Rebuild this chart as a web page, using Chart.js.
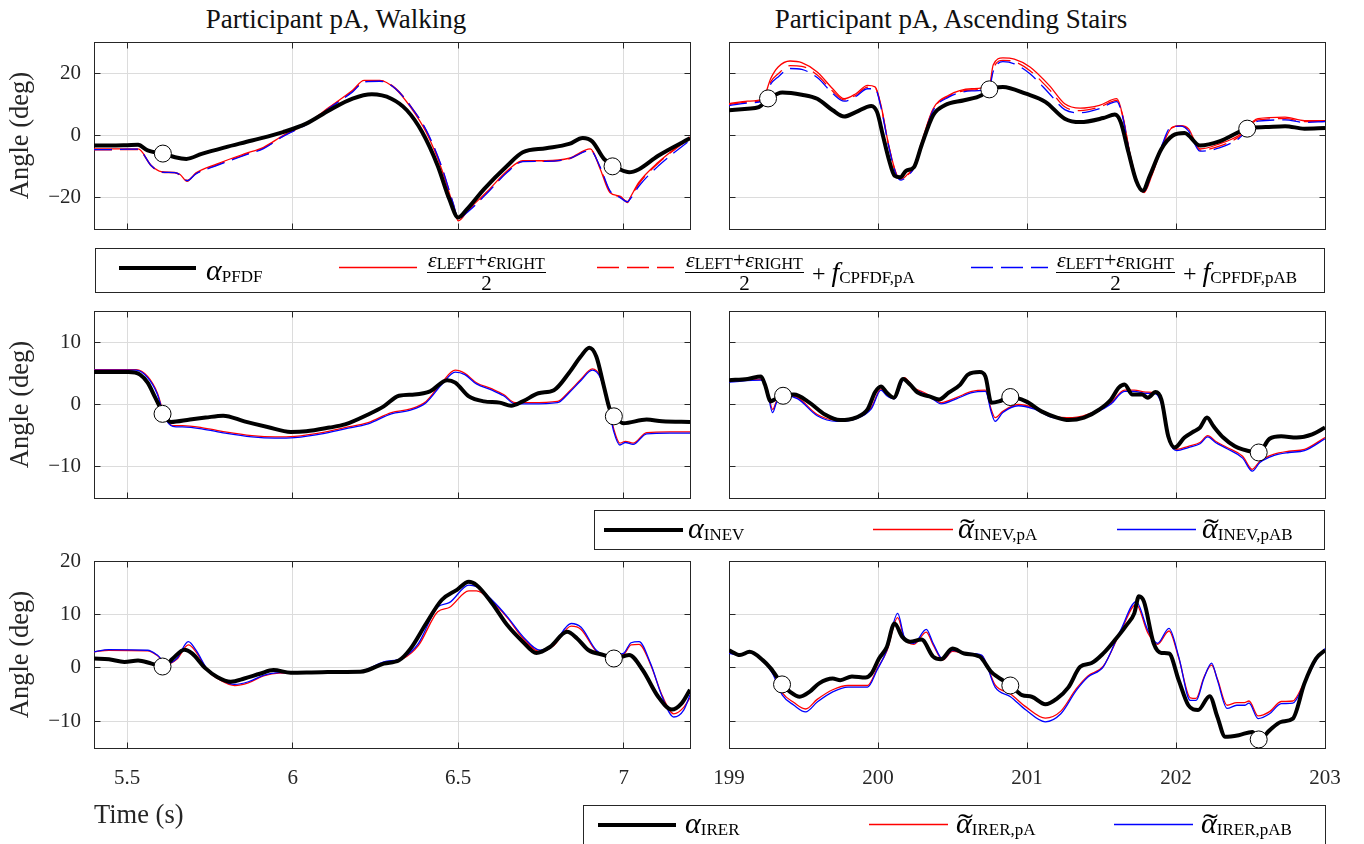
<!DOCTYPE html>
<html><head><meta charset="utf-8">
<script src="https://cdn.jsdelivr.net/npm/chart.js@4.4.1/dist/chart.umd.min.js"></script>
<style>
html,body{margin:0;padding:0;background:#fff;}
#page{position:relative;width:1364px;height:844px;overflow:hidden;font-family:'Liberation Serif','Times New Roman',serif;}
canvas{position:absolute;}
.ttl{position:absolute;top:4px;transform:translateX(-50%);font-size:27px;line-height:30px;color:#111;white-space:nowrap;}
.lg{position:absolute;border:1px solid #262626;background:#fff;box-sizing:border-box;}
#sw{position:absolute;left:0;top:0;pointer-events:none;}
.t{position:absolute;white-space:nowrap;line-height:1;color:#000;}
.t i{font-style:italic;}
.sb{font-size:17px;position:relative;top:2px;font-style:normal;}
.at{position:relative;display:inline-block;font-style:italic;}
.tl{position:absolute;left:2px;top:1px;font-style:normal;transform:scaleX(1.5);transform-origin:left;}
.row{display:flex;align-items:center;}
.fr{display:flex;flex-direction:column;}
.num{font-size:22px;line-height:21px;padding:0 1px;}
.s2{font-size:16px;position:relative;top:2px;}
.pl{font-size:22px;}
.den{border-top:1.3px solid #000;font-size:21px;line-height:21px;text-align:center;}
.tail{font-size:28px;margin-left:8px;}
.pl2{font-size:24px;margin-right:6px;}
</style></head><body><div id="page">
<div class="ttl" style="left:336px">Participant pA, Walking</div>
<div class="ttl" style="left:951px">Participant pA, Ascending Stairs</div>

<canvas id="cTL" width="702" height="211" style="left:0;top:30px;width:702px;height:211px"></canvas>
<canvas id="cTR" width="644" height="211" style="left:705px;top:30px;width:644px;height:211px"></canvas>
<canvas id="cML" width="702" height="211" style="left:0;top:299px;width:702px;height:211px"></canvas>
<canvas id="cMR" width="644" height="211" style="left:705px;top:299px;width:644px;height:211px"></canvas>
<canvas id="cBL" width="702" height="283" style="left:0;top:549px;width:702px;height:283px"></canvas>
<canvas id="cBR" width="644" height="256" style="left:705px;top:549px;width:644px;height:256px"></canvas>

<div class="lg" style="left:95px;top:248px;width:1230px;height:45px"></div>
<div class="lg" style="left:594px;top:510px;width:731px;height:40px"></div>
<div class="lg" style="left:583px;top:805px;width:743px;height:45px"></div>

<svg id="sw" width="1364" height="844" viewBox="0 0 1364 844">
  <!-- legend 1 -->
  <line x1="119" y1="268" x2="196" y2="268" stroke="#000" stroke-width="4"/>
  <line x1="339" y1="267.5" x2="417" y2="267.5" stroke="#f00" stroke-width="1.3"/>
  <line x1="597" y1="267.5" x2="674" y2="267.5" stroke="#f00" stroke-width="1.3" stroke-dasharray="22 8"/>
  <line x1="971" y1="267.5" x2="1048" y2="267.5" stroke="#00f" stroke-width="1.3" stroke-dasharray="22 8"/>
  <!-- legend 2 -->
  <line x1="604" y1="530" x2="683" y2="530" stroke="#000" stroke-width="4"/>
  <line x1="873" y1="529.5" x2="953" y2="529.5" stroke="#f00" stroke-width="1.3"/>
  <line x1="1117" y1="529.5" x2="1196" y2="529.5" stroke="#00f" stroke-width="1.3"/>
  <!-- legend 3 -->
  <line x1="598" y1="825" x2="676" y2="825" stroke="#000" stroke-width="4"/>
  <line x1="869" y1="824.5" x2="948" y2="824.5" stroke="#f00" stroke-width="1.3"/>
  <line x1="1114" y1="824.5" x2="1193" y2="824.5" stroke="#00f" stroke-width="1.3"/>
</svg>

<!-- legend 1 texts -->
<div class="t" style="left:206px;top:255px;font-size:30px"><i>α</i><span class="sb">PFDF</span></div>
<div class="t row" style="left:427px;top:249px"><div class="fr"><div class="num"><i>ε</i><span class="s2">LEFT</span><span class="pl">+</span><i>ε</i><span class="s2">RIGHT</span></div><div class="den">2</div></div></div>
<div class="t row" style="left:685px;top:249px"><div class="fr"><div class="num"><i>ε</i><span class="s2">LEFT</span><span class="pl">+</span><i>ε</i><span class="s2">RIGHT</span></div><div class="den">2</div></div><div class="tail"><span class="pl2">+</span><i>f</i><span class="sb">CPFDF,pA</span></div></div>
<div class="t row" style="left:1056px;top:249px"><div class="fr"><div class="num"><i>ε</i><span class="s2">LEFT</span><span class="pl">+</span><i>ε</i><span class="s2">RIGHT</span></div><div class="den">2</div></div><div class="tail"><span class="pl2">+</span><i>f</i><span class="sb">CPFDF,pAB</span></div></div>

<!-- legend 2 texts -->
<div class="t" style="left:688px;top:513px;font-size:30px"><i>α</i><span class="sb">INEV</span></div>
<div class="t" style="left:958px;top:513px;font-size:30px"><span class="at">α<span class="tl">˜</span></span><span class="sb">INEV,pA</span></div>
<div class="t" style="left:1202px;top:513px;font-size:30px"><span class="at">α<span class="tl">˜</span></span><span class="sb">INEV,pAB</span></div>

<!-- legend 3 texts -->
<div class="t" style="left:685px;top:808px;font-size:30px"><i>α</i><span class="sb">IRER</span></div>
<div class="t" style="left:956px;top:808px;font-size:30px"><span class="at">α<span class="tl">˜</span></span><span class="sb">IRER,pA</span></div>
<div class="t" style="left:1201px;top:808px;font-size:30px"><span class="at">α<span class="tl">˜</span></span><span class="sb">IRER,pAB</span></div>
</div>
<script>
// ---------- tick labels / axis ranges ----------
const X_TICKS_WALK = [5.5, 6, 6.5, 7];
const X_TICKS_STAIRS = [199, 200, 201, 202, 203];
const Y_TICKS_TOP = [-20, 0, 20];
const Y_TICKS_MID = [-10, 0, 10];
const Y_TICKS_BOT = [-10, 0, 10, 20];

// ---------- Top-left: PFDF, walking ----------
const TL_BLACK_X = [5.40,5.45,5.50,5.533,5.562,5.611,5.645,5.679,5.725,5.796,5.877,5.971,6.041,6.111,6.181,6.239,6.298,6.345,6.391,6.438,6.473,6.500,6.526,6.578,6.648,6.695,6.765,6.835,6.876,6.905,6.940,6.972,7.016,7.046,7.104,7.200];
const TL_BLACK_Y = [-3.2,-3.2,-3.1,-3.0,-4.8,-5.9,-7.0,-7.5,-5.9,-3.8,-1.6,1.1,3.8,8.1,11.8,13.2,11.8,8.1,1.1,-9.7,-20.4,-26.3,-23.7,-17.2,-9.7,-5.4,-4.1,-2.7,-0.8,-1.9,-7.5,-10.0,-11.8,-10.8,-6.5,-0.9];
const TL_COLOR_X = [5.40,5.45,5.50,5.533,5.574,5.603,5.644,5.660,5.681,5.708,5.772,5.854,5.912,5.971,6.041,6.111,6.181,6.216,6.263,6.310,6.356,6.403,6.450,6.485,6.500,6.532,6.590,6.648,6.695,6.765,6.835,6.899,6.929,6.958,6.990,7.011,7.022,7.046,7.104,7.200];
const TL_RED_Y = [-4.3,-4.3,-4.3,-4.3,-9.7,-11.6,-11.8,-12.5,-14.7,-12.0,-9.1,-5.9,-3.8,0.0,3.8,9.1,14.5,17.7,17.7,15.0,9.1,1.1,-10.8,-22.6,-27.4,-23.7,-17.7,-11.3,-8.1,-8.1,-7.3,-4.3,-10.8,-18.3,-19.5,-21.5,-19.4,-15.0,-8.6,-0.5];
const TL_REDDASH_Y = [-4.6,-4.6,-4.5,-4.5,-9.9,-11.8,-12.0,-12.7,-14.4,-12.2,-9.4,-6.2,-4.0,-0.2,3.6,8.9,14.2,17.4,17.6,15.2,9.5,1.6,-10.2,-22.0,-26.8,-24.0,-18.0,-11.6,-8.3,-8.3,-7.5,-4.6,-10.4,-17.9,-19.8,-21.2,-19.6,-15.4,-8.9,-0.8];
const TL_BLUEDASH_Y = [-4.5,-4.5,-4.4,-4.4,-9.8,-11.7,-11.9,-12.6,-14.5,-12.3,-9.6,-6.4,-4.2,-0.3,3.5,8.8,14.0,17.2,17.4,15.1,9.4,1.8,-10.0,-21.8,-26.6,-24.2,-18.2,-11.8,-8.4,-8.3,-7.4,-4.8,-10.2,-17.7,-20.0,-21.3,-20.0,-16.2,-9.8,-1.5];
const TL_EVENT_X = [5.608, 6.966];
const TL_EVENT_Y = [-5.8, -9.9];

// ---------- Top-right: PFDF, stairs ----------
const TR_BLACK_X = [199.00,199.125,199.20,199.267,199.358,199.488,199.592,199.696,199.773,199.851,199.955,199.994,200.033,200.072,200.111,200.150,200.189,200.241,200.292,200.370,200.448,200.578,200.695,200.750,200.838,200.993,201.123,201.253,201.357,201.512,201.590,201.629,201.681,201.733,201.777,201.824,201.902,201.979,202.057,202.161,202.291,202.421,202.493,202.602,202.732,202.862,203.00];
const TR_BLACK_Y = [8.1,8.6,9.1,11.8,13.8,13.1,11.8,8.1,6.1,7.5,9.5,7.5,0.0,-7.5,-12.9,-13.4,-11.3,-10.2,-3.2,6.5,9.7,11.3,12.9,15.0,15.6,13.4,10.8,5.4,4.3,5.6,6.7,4.3,-5.4,-14.5,-17.7,-12.9,-4.3,0.0,0.8,-3.2,-1.9,1.1,2.4,2.7,3.0,2.2,2.4];
const TR_COLOR_X = [199.00,199.125,199.228,199.280,199.330,199.410,199.488,199.592,199.696,199.773,199.851,199.930,199.980,200.020,200.072,200.124,200.155,200.200,200.241,200.292,200.370,200.474,200.630,200.747,200.773,200.838,200.915,201.020,201.149,201.253,201.357,201.486,201.603,201.642,201.694,201.746,201.785,201.837,201.902,201.966,202.031,202.083,202.161,202.291,202.421,202.550,202.732,202.862,203.00];
const TR_RED_Y = [10.2,11.0,11.8,18.3,22.0,23.9,23.4,20.4,15.0,11.8,13.4,16.1,15.6,9.7,-3.2,-12.4,-14.0,-12.4,-10.2,-2.2,8.6,12.9,15.0,15.9,22.6,24.9,24.5,22.0,16.1,10.2,8.8,9.7,11.8,6.5,-6.5,-15.6,-18.3,-12.9,-4.3,2.2,3.2,2.2,-4.3,-2.7,0.0,5.4,5.9,4.8,4.8];
const TR_REDDASH_Y = [9.9,10.7,11.5,17.2,19.8,22.4,22.2,19.4,14.2,11.4,12.9,15.5,15.3,9.3,-3.3,-12.6,-14.1,-12.6,-10.4,-2.5,8.3,12.6,14.6,15.6,21.3,24.1,23.7,20.8,14.8,9.2,8.0,9.1,11.3,6.2,-6.8,-15.8,-18.1,-12.4,-3.9,2.4,3.1,1.8,-4.7,-3.4,-0.5,5.0,5.4,4.5,4.6];
const TR_BLUEDASH_Y = [9.6,10.4,11.2,16.5,18.8,21.5,21.2,18.6,13.5,11.0,12.5,15.0,15.0,9.0,-3.5,-12.8,-14.3,-12.8,-10.5,-2.8,8.0,12.3,14.3,15.3,20.5,23.7,23.0,19.8,13.5,8.3,7.3,8.6,10.9,6.0,-7.0,-16.0,-18.0,-12.0,-3.5,2.7,3.0,1.5,-5.0,-4.0,-1.0,4.6,5.0,4.2,4.5];
const TR_EVENT_X = [199.262, 200.747, 202.478];
const TR_EVENT_Y = [11.9, 14.8, 2.2];

// ---------- Middle-left: INEV, walking ----------
const ML_BLACK_X = [5.40,5.504,5.539,5.562,5.585,5.611,5.632,5.690,5.737,5.790,5.854,5.924,5.994,6.041,6.111,6.158,6.228,6.275,6.321,6.368,6.415,6.467,6.491,6.532,6.578,6.625,6.660,6.695,6.742,6.789,6.835,6.870,6.896,6.917,6.940,6.958,6.972,6.999,7.069,7.116,7.200];
const ML_BLACK_Y = [5.2,5.2,4.8,3.5,1.1,-1.6,-2.8,-2.4,-2.1,-1.8,-2.7,-3.6,-4.4,-4.3,-3.7,-3.2,-1.6,-0.3,1.4,1.6,2.1,3.9,3.5,1.3,0.5,0.3,-0.2,0.5,1.8,2.3,5.1,7.7,9.1,7.7,2.9,-0.8,-1.9,-3.0,-2.4,-2.7,-2.8];
const ML_COLOR_X = [5.40,5.527,5.562,5.591,5.614,5.638,5.667,5.725,5.796,5.877,5.947,6.006,6.088,6.158,6.228,6.298,6.356,6.403,6.450,6.491,6.520,6.555,6.602,6.637,6.672,6.718,6.800,6.835,6.870,6.905,6.929,6.952,6.970,6.988,7.005,7.028,7.069,7.139,7.200];
const ML_RED_Y = [5.6,5.6,4.5,1.9,-1.9,-3.4,-3.4,-3.7,-4.4,-5.0,-5.2,-5.1,-4.5,-3.7,-2.9,-1.3,-0.7,0.5,3.5,5.5,5.0,3.5,2.5,1.6,0.3,0.3,0.5,2.1,4.0,5.7,4.5,0.3,-4.0,-6.2,-5.9,-6.2,-4.5,-4.4,-4.4];
const ML_BLUE_Y = [5.5,5.5,4.3,1.7,-2.1,-3.5,-3.6,-3.9,-4.6,-5.2,-5.4,-5.3,-4.7,-3.9,-3.1,-1.5,-0.9,0.3,3.2,5.2,4.8,3.3,2.3,1.4,0.1,0.1,0.3,1.9,3.8,5.5,4.3,0.1,-4.4,-6.5,-6.1,-6.4,-4.7,-4.6,-4.6];
const ML_EVENT_X = [5.607, 6.970];
const ML_EVENT_Y = [-1.5, -1.9];

// ---------- Middle-right: INEV, stairs ----------
const MR_BLACK_X = [199.00,199.125,199.215,199.241,199.280,199.306,199.363,199.436,199.540,199.644,199.747,199.851,199.930,199.981,200.020,200.059,200.106,200.168,200.215,200.267,200.345,200.410,200.474,200.552,200.604,200.682,200.721,200.760,200.812,200.889,200.993,201.097,201.201,201.279,201.383,201.486,201.564,201.616,201.655,201.707,201.772,201.811,201.863,201.902,201.948,201.992,202.057,202.122,202.161,202.208,202.252,202.317,202.395,202.447,202.555,202.628,202.706,202.810,202.914,203.00];
const MR_BLACK_Y = [3.9,4.1,4.5,3.2,0.5,0.8,1.4,1.6,0.3,-1.6,-2.5,-2.1,-0.8,2.0,2.9,1.9,1.1,4.1,3.2,1.9,1.3,0.8,1.9,3.2,4.8,5.2,4.5,0.3,0.5,1.2,0.5,-1.1,-2.1,-2.5,-2.1,-0.8,0.8,2.7,3.2,1.6,1.6,1.1,2.0,0.8,-5.1,-6.9,-5.3,-4.3,-3.7,-2.1,-3.5,-5.3,-6.7,-7.2,-7.7,-5.5,-5.1,-5.3,-4.8,-3.7];
const MR_COLOR_X = [199.00,199.215,199.254,199.293,199.319,199.384,199.462,199.592,199.722,199.851,199.955,200.020,200.059,200.111,200.176,200.241,200.319,200.384,200.423,200.526,200.630,200.721,200.760,200.786,200.838,200.942,201.045,201.175,201.305,201.460,201.564,201.655,201.720,201.798,201.863,201.902,201.953,202.005,202.083,202.161,202.213,202.265,202.343,202.447,202.512,202.563,202.654,202.758,202.862,203.00];
const MR_RED_Y = [3.7,4.0,2.7,-0.8,0.5,1.6,1.1,-1.6,-2.5,-2.1,-0.5,2.5,1.6,1.1,4.3,2.7,1.8,0.8,0.3,1.1,2.1,2.3,-0.8,-2.1,-1.1,0.0,-0.5,-1.9,-2.1,-1.1,0.3,2.3,2.3,2.0,1.9,0.3,-5.6,-7.2,-6.7,-6.1,-5.0,-5.9,-6.9,-8.3,-10.4,-9.1,-8.0,-7.5,-7.2,-5.3];
const MR_BLUE_Y = [3.6,3.9,2.5,-1.3,0.3,1.4,0.9,-1.8,-2.7,-2.3,-0.7,2.3,1.4,0.9,4.1,2.5,1.6,0.6,0.1,0.9,1.9,2.1,-1.2,-2.7,-1.3,-0.2,-0.7,-2.1,-2.3,-1.3,0.1,2.1,2.1,1.8,1.7,0.1,-5.8,-7.4,-6.9,-6.3,-5.2,-6.1,-7.1,-8.6,-10.7,-9.3,-8.2,-7.7,-7.4,-5.5];
const MR_EVENT_X = [199.363, 200.888, 202.555];
const MR_EVENT_Y = [1.4, 1.2, -7.7];

// ---------- Bottom-left: IRER, walking ----------
const BL_BLACK_X = [5.40,5.445,5.492,5.533,5.574,5.611,5.638,5.673,5.696,5.737,5.772,5.813,5.854,5.901,5.942,5.994,6.088,6.204,6.228,6.275,6.321,6.356,6.403,6.450,6.496,6.532,6.555,6.602,6.648,6.695,6.736,6.777,6.829,6.859,6.894,6.940,6.972,7.016,7.057,7.104,7.145,7.174,7.200];
const BL_BLACK_Y = [1.75,1.6,1.1,1.4,0.8,0.3,1.75,3.4,2.7,-0.1,-1.7,-2.6,-2.0,-1.1,-0.4,-0.9,-0.8,-0.75,-0.4,0.8,1.4,3.6,8.3,12.7,14.6,16.1,15.5,12.1,8.0,4.9,2.8,3.9,6.75,5.5,3.3,2.4,1.75,2.4,-0.4,-5.4,-7.8,-6.7,-4.1];
const BL_COLOR_X = [5.40,5.445,5.562,5.591,5.620,5.650,5.685,5.708,5.743,5.784,5.825,5.866,5.912,5.959,6.088,6.204,6.275,6.333,6.380,6.438,6.473,6.532,6.555,6.602,6.648,6.695,6.748,6.789,6.841,6.871,6.917,6.952,6.999,7.022,7.046,7.081,7.116,7.151,7.181,7.200];
const BL_RED_Y = [3.0,3.3,3.2,2.3,0.7,1.6,4.3,3.0,-0.5,-2.4,-3.3,-2.8,-1.5,-1.0,-1.0,-0.7,0.9,1.7,4.2,10.5,11.3,14.4,14.4,12.4,9.4,5.6,3.0,4.2,7.8,7.2,3.1,2.2,2.5,4.3,4.4,0.6,-5.2,-8.6,-7.4,-5.6];
const BL_BLUE_Y = [3.0,3.4,3.3,2.4,0.8,1.75,4.9,3.3,-0.3,-2.2,-3.1,-2.6,-1.4,-0.9,-0.9,-0.6,1.1,1.9,4.6,11.4,12.2,15.5,15.2,12.7,9.6,5.9,3.3,4.6,8.3,7.6,3.3,2.4,2.7,4.7,4.9,0.8,-5.4,-9.2,-7.9,-5.1];
const BL_EVENT_X = [5.607, 6.970];
const BL_EVENT_Y = [0.25, 1.75];

// ---------- Bottom-right: IRER, stairs ----------
const BR_BLACK_X = [199.00,199.073,199.138,199.228,199.280,199.358,199.410,199.475,199.540,199.605,199.696,199.747,199.825,199.916,199.955,200.007,200.059,200.111,200.163,200.215,200.292,200.370,200.422,200.500,200.578,200.682,200.760,200.889,200.967,201.032,201.123,201.201,201.279,201.357,201.434,201.512,201.590,201.668,201.720,201.751,201.785,201.850,201.902,201.953,202.018,202.083,202.148,202.226,202.278,202.330,202.421,202.512,202.563,202.628,202.706,202.784,202.862,202.940,203.00];
const BR_BLACK_Y = [3.3,2.4,3.0,1.4,-0.1,-3.1,-4.5,-5.4,-4.5,-2.9,-2.0,-2.3,-1.6,-1.8,-1.1,1.75,3.9,8.3,5.8,4.9,5.3,2.1,1.6,3.6,2.7,2.1,-0.75,-3.25,-5.1,-5.4,-6.8,-5.75,-3.6,0.2,0.9,2.7,5.2,8.0,10.2,13.4,12.4,4.6,2.8,2.7,-2.3,-7.0,-7.9,-5.3,-9.2,-12.9,-12.6,-12.0,-13.4,-11.7,-10.1,-9.5,-2.9,1.75,3.3];
const BR_COLOR_X = [199.00,199.073,199.138,199.228,199.293,199.358,199.436,199.514,199.592,199.696,199.799,199.930,199.994,200.059,200.132,200.176,200.241,200.324,200.370,200.436,200.500,200.604,200.695,200.786,200.889,200.993,201.123,201.227,201.331,201.409,201.512,201.629,201.733,201.810,201.876,201.953,202.018,202.096,202.135,202.187,202.239,202.278,202.343,202.408,202.460,202.490,202.551,202.628,202.706,202.784,202.862,202.940,203.00];
const BR_RED_Y = [2.9,2.5,3.0,1.5,-0.9,-4.7,-6.5,-7.7,-5.9,-4.1,-3.3,-3.3,-0.2,3.1,9.4,5.6,4.4,6.7,4.3,1.5,3.1,2.6,2.3,-3.2,-4.9,-7.3,-9.4,-8.1,-3.9,-1.5,0.3,6.8,11.9,6.6,4.4,6.9,1.9,-5.6,-5.7,-1.8,0.5,-2.1,-7.0,-6.5,-6.5,-6.2,-9.0,-8.2,-6.3,-6.2,-2.6,1.5,3.5];
const BR_BLUE_Y = [2.7,2.4,2.9,1.4,-1.1,-5.1,-7.0,-8.25,-6.4,-4.5,-3.6,-3.6,-0.4,3.3,10.2,5.8,4.6,7.2,4.6,1.6,3.3,2.7,2.4,-3.6,-5.4,-7.9,-10.1,-8.6,-4.2,-1.7,0.2,7.1,12.4,7.1,4.6,7.4,2.1,-6.1,-6.1,-2.0,0.9,-2.3,-7.6,-7.0,-7.0,-6.6,-9.5,-8.6,-6.7,-6.6,-2.9,1.4,3.6];
const BR_EVENT_X = [199.356, 200.888, 202.555];
const BR_EVENT_Y = [-3.1, -3.3, -13.4];

// ---------- helpers ----------
const FONT = "'Liberation Serif', 'Times New Roman', serif";
const AXC = '#262626';
const pts = (xs, ys) => xs.map((x, i) => ({x: x, y: ys[i]}));
const fmt = v => String(v).replace('-', '\u2212');
const alignPx = p => Math.round(p - 0.5) + 0.5;

const boxPlugin = {
  id: 'matlabBox',
  beforeDatasetsDraw(chart) {
    const {ctx, chartArea: a, scales: {x, y}} = chart;
    ctx.save();
    ctx.strokeStyle = AXC; ctx.lineWidth = 1;
    const L = alignPx(a.left), R = alignPx(a.right), T = alignPx(a.top), B = alignPx(a.bottom);
    ctx.strokeRect(L, T, R - L, B - T);
    ctx.beginPath();
    x.ticks.forEach(t => { const p = alignPx(x.getPixelForValue(t.value)); ctx.moveTo(p, T); ctx.lineTo(p, T + 6); ctx.moveTo(p, B); ctx.lineTo(p, B - 6); });
    y.ticks.forEach(t => { const p = alignPx(y.getPixelForValue(t.value)); ctx.moveTo(L, p); ctx.lineTo(L + 6, p); ctx.moveTo(R, p); ctx.lineTo(R - 6, p); });
    ctx.stroke();
    ctx.restore();
  }
};

function panel(id, o) {
  const datasets = [
    {data: pts(o.ex, o.ey), showLine: false, pointRadius: 8.5, pointBackgroundColor: '#fff', pointBorderColor: '#000', pointBorderWidth: 1, clip: false, order: 0},
    {data: pts(o.bx, o.by), borderColor: '#000', borderWidth: 4, order: 1}
  ];
  o.series.forEach((s, i) => datasets.push({data: pts(o.cx, s.y), borderColor: s.c, borderWidth: 1.3, borderDash: s.dash || [], order: 2 + i}));
  new Chart(document.getElementById(id), {
    type: 'line',
    data: {datasets},
    options: {
      responsive: false, animation: false, events: [],
      elements: {point: {radius: 0}, line: {cubicInterpolationMode: 'monotone', borderJoinStyle: 'round'}},
      layout: {padding: {left: o.left ? 0 : 24, right: o.left ? 12 : 24, top: 12, bottom: o.bottom ? 0 : 12}},
      plugins: {legend: {display: false}, tooltip: {enabled: false}},
      scales: {
        x: {
          type: 'linear', min: o.xmin, max: o.xmax,
          afterBuildTicks: s => { s.ticks = o.xt.map(v => ({value: v})); },
          afterFit: s => { s.height = o.bottom ? (o.left ? 84 : 57) : 0; s.paddingLeft = 0; s.paddingRight = 0; },
          grid: {color: '#dcdcdc', drawTicks: false, lineWidth: 1},
          border: {display: false},
          ticks: {display: !!o.bottom, padding: 18, autoSkip: false, maxRotation: 0, color: AXC, font: {family: FONT, size: 21}, callback: v => fmt(v)},
          title: {display: !!(o.bottom && o.left), text: 'Time (s)', align: 'start', color: AXC, font: {family: FONT, size: 26.5}, padding: {top: 0, bottom: 0}}
        },
        y: {
          type: 'linear', min: o.ymin, max: o.ymax,
          afterBuildTicks: s => { s.ticks = o.yt.map(v => ({value: v})); },
          afterFit: s => { s.width = o.left ? 94 : 0; s.paddingTop = 0; s.paddingBottom = 0; },
          grid: {color: '#dcdcdc', drawTicks: false, lineWidth: 1},
          border: {display: false},
          ticks: {display: !!o.left, padding: 13, color: AXC, font: {family: FONT, size: 21}, callback: v => fmt(v)},
          title: {display: !!o.left, text: 'Angle (deg)', color: AXC, font: {family: FONT, size: 26.5}, padding: {top: 5, bottom: 0}}
        }
      }
    },
    plugins: [boxPlugin]
  });
}

const RED = '#ff0000', BLUE = '#0000ff', DASH = [18, 8];

panel('cTL', {left: true, xmin: 5.4, xmax: 7.2, xt: X_TICKS_WALK, ymin: -30, ymax: 30, yt: Y_TICKS_TOP,
  bx: TL_BLACK_X, by: TL_BLACK_Y, cx: TL_COLOR_X, ex: TL_EVENT_X, ey: TL_EVENT_Y,
  series: [{y: TL_BLUEDASH_Y, c: BLUE, dash: DASH}, {y: TL_REDDASH_Y, c: RED, dash: DASH}, {y: TL_RED_Y, c: RED}]});
panel('cTR', {left: false, xmin: 199, xmax: 203, xt: X_TICKS_STAIRS, ymin: -30, ymax: 30, yt: Y_TICKS_TOP,
  bx: TR_BLACK_X, by: TR_BLACK_Y, cx: TR_COLOR_X, ex: TR_EVENT_X, ey: TR_EVENT_Y,
  series: [{y: TR_BLUEDASH_Y, c: BLUE, dash: DASH}, {y: TR_REDDASH_Y, c: RED, dash: DASH}, {y: TR_RED_Y, c: RED}]});
panel('cML', {left: true, xmin: 5.4, xmax: 7.2, xt: X_TICKS_WALK, ymin: -15, ymax: 15, yt: Y_TICKS_MID,
  bx: ML_BLACK_X, by: ML_BLACK_Y, cx: ML_COLOR_X, ex: ML_EVENT_X, ey: ML_EVENT_Y,
  series: [{y: ML_BLUE_Y, c: BLUE}, {y: ML_RED_Y, c: RED}]});
panel('cMR', {left: false, xmin: 199, xmax: 203, xt: X_TICKS_STAIRS, ymin: -15, ymax: 15, yt: Y_TICKS_MID,
  bx: MR_BLACK_X, by: MR_BLACK_Y, cx: MR_COLOR_X, ex: MR_EVENT_X, ey: MR_EVENT_Y,
  series: [{y: MR_BLUE_Y, c: BLUE}, {y: MR_RED_Y, c: RED}]});
panel('cBL', {left: true, bottom: true, xmin: 5.4, xmax: 7.2, xt: X_TICKS_WALK, ymin: -15, ymax: 20, yt: Y_TICKS_BOT,
  bx: BL_BLACK_X, by: BL_BLACK_Y, cx: BL_COLOR_X, ex: BL_EVENT_X, ey: BL_EVENT_Y,
  series: [{y: BL_BLUE_Y, c: BLUE}, {y: BL_RED_Y, c: RED}]});
panel('cBR', {left: false, bottom: true, xmin: 199, xmax: 203, xt: X_TICKS_STAIRS, ymin: -15, ymax: 20, yt: Y_TICKS_BOT,
  bx: BR_BLACK_X, by: BR_BLACK_Y, cx: BR_COLOR_X, ex: BR_EVENT_X, ey: BR_EVENT_Y,
  series: [{y: BR_BLUE_Y, c: BLUE}, {y: BR_RED_Y, c: RED}]});
</script>
</body></html>
